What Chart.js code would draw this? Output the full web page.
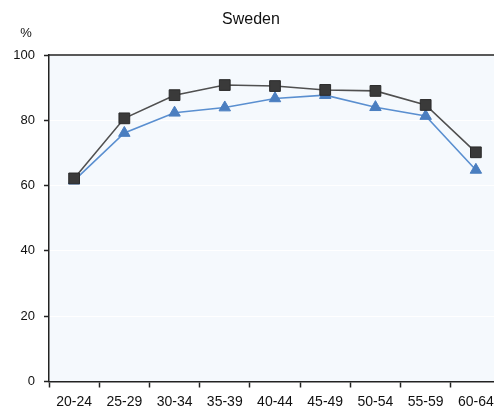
<!DOCTYPE html>
<html>
<head>
<meta charset="utf-8">
<script src="https://cdn.jsdelivr.net/npm/chart.js@4"></script>
<style>
html,body{margin:0;padding:0;overflow:hidden;background:#fff;width:494px;height:412px;}
#wrap{width:502px;height:412px;position:relative;}
</style>
</head>
<body>
<div id="wrap"><canvas id="c" width="502" height="412" style="width:502px;height:412px"></canvas></div>
<script>
const categories = ["20-24","25-29","30-34","35-39","40-44","45-49","50-54","55-59","60-64"];
const seriesSquares = [62.2, 80.6, 87.7, 90.8, 90.5, 89.3, 89.0, 84.7, 70.2];
const seriesTriangles = [61.5, 76.1, 82.3, 83.9, 86.7, 87.7, 84.0, 81.3, 64.8];
const yTicks = [0, 20, 40, 60, 80, 100];
const titleText = "Sweden";
const unitText = "%";

const FONT = "'Liberation Sans', Arial, sans-serif";

const decor = {
  id: 'decor',
  beforeDraw(chart) {
    const {ctx, chartArea: a} = chart;
    ctx.save();
    ctx.fillStyle = '#f5f9fd';
    ctx.fillRect(a.left, a.top, a.right - a.left, a.bottom - a.top);
    ctx.restore();
  },
  afterDraw(chart) {
    const {ctx, chartArea: a} = chart;
    ctx.save();
    ctx.strokeStyle = '#222';
    ctx.lineWidth = 1.5;
    ctx.beginPath();
    ctx.moveTo(a.left, a.top);
    ctx.lineTo(a.right, a.top);
    ctx.stroke();
    ctx.fillStyle = '#111';
    ctx.textAlign = 'center';
    ctx.textBaseline = 'middle';
    ctx.font = '16px ' + FONT;
    ctx.fillText(titleText, 251, 20);
    ctx.font = '13px ' + FONT;
    ctx.fillText(unitText, 26, 33);
    ctx.restore();
  }
};

new Chart(document.getElementById('c'), {
  type: 'line',
  data: {
    labels: categories,
    datasets: [
      {
        data: seriesSquares,
        borderColor: '#505050',
        borderWidth: 1.6,
        backgroundColor: '#3a3a3a',
        pointBackgroundColor: '#3a3a3a',
        pointBorderColor: '#2a2a2a',
        pointBorderWidth: 1,
        pointStyle: 'rect',
        pointRadius: 7.6,
        tension: 0,
        order: 1
      },
      {
        data: seriesTriangles,
        borderColor: '#5a8fd0',
        borderWidth: 1.6,
        backgroundColor: '#4a7ec0',
        pointBackgroundColor: '#4a7ec0',
        pointBorderColor: '#4a7ec0',
        pointBorderWidth: 1,
        pointStyle: 'triangle',
        pointRadius: 6.6,
        tension: 0,
        order: 2
      }
    ]
  },
  options: {
    responsive: false,
    animation: false,
    devicePixelRatio: 1,
    layout: {autoPadding: false, padding: {top: 55, right: 1, left: 0, bottom: 0}},
    plugins: {legend: {display: false}, tooltip: {enabled: false}, title: {display: false}},
    scales: {
      x: {
        offset: true,
        grid: {offset: true, drawOnChartArea: false, tickLength: 6, tickColor: '#222', tickWidth: 1.5},
        border: {color: '#222', width: 1.5},
        ticks: {color: '#111', font: {family: FONT, size: 14}, padding: 6, maxRotation: 0, autoSkip: false},
        afterFit(s) { s.height = 30.5; s.paddingLeft = 0; s.paddingRight = 0; }
      },
      y: {
        min: 0, max: 100,
        afterBuildTicks(s) { s.ticks = yTicks.map(v => ({value: v})); },
        grid: {color: '#ffffff', lineWidth: 1, tickLength: 5, tickColor: '#222', tickWidth: 1.5},
        border: {color: '#222', width: 1.5},
        ticks: {color: '#111', font: {family: FONT, size: 13}, padding: 9},
        afterFit(s) { s.width = 49; s.paddingTop = 0; s.paddingBottom = 0; }
      }
    }
  },
  plugins: [decor]
});
</script>
</body>
</html>
